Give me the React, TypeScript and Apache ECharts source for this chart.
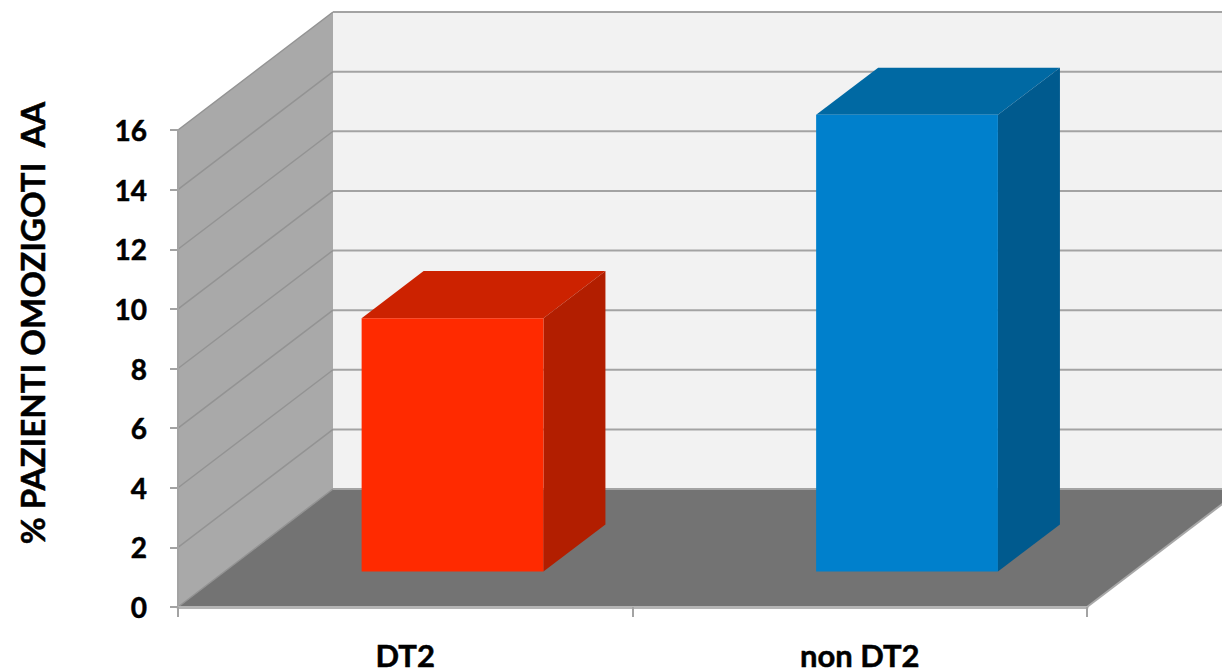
import React, { useEffect, useRef } from "react";
import * as echarts from "echarts";

// Percentage of homozygous AA patients per group
const categories = ["DT2", "non DT2"];
const percentValues = [8.5, 15.32];
const yTicks = [0, 2, 4, 6, 8, 10, 12, 14, 16];
const yAxisTitle = "% PAZIENTI OMOZIGOTI  AA";

const FONT = "Lato, 'Open Sans', sans-serif";
const GRID_LINE = "#a3a3a3";
const SIDE_WALL_LINE = "#939393";

// Oblique projection: full chart depth and where the bars stand within it
const DEPTH_X = 155;
const DEPTH_Y = -118;
const BAR_FRONT_X = 0.305;
const BAR_FRONT_Y = 0.3;
const BAR_DEPTH = 0.4;
const BAR_WIDTH_RATIO = 0.4;

const barColors = [
  { front: "#ff2a00", top: "#cc2200", side: "#b21e00" },
  { front: "#0080cc", top: "#0069a3", side: "#005a8e" },
];

const poly = (points: number[][], fill: string) => ({
  type: "polygon",
  shape: { points },
  style: { fill },
});

const renderPanels = (params: any) => {
  const { x, y, width, height } = params.coordSys;
  const x2 = x + width;
  const y2 = y + height;
  return {
    type: "group",
    children: [
      poly(
        [
          [x + DEPTH_X, y + DEPTH_Y],
          [x2 + DEPTH_X, y + DEPTH_Y],
          [x2 + DEPTH_X, y2 + DEPTH_Y],
          [x + DEPTH_X, y2 + DEPTH_Y],
        ],
        "#f2f2f2",
      ),
      poly(
        [
          [x, y],
          [x + DEPTH_X, y + DEPTH_Y],
          [x + DEPTH_X, y2 + DEPTH_Y],
          [x, y2],
        ],
        "#a9a9a9",
      ),
      poly(
        [
          [x, y2],
          [x2, y2],
          [x2 + DEPTH_X, y2 + DEPTH_Y],
          [x + DEPTH_X, y2 + DEPTH_Y],
        ],
        "#737373",
      ),
      // Outer right edge of the floor
      {
        type: "line",
        shape: { x1: x2, y1: y2, x2: x2 + DEPTH_X, y2: y2 + DEPTH_Y },
        style: { stroke: "#a8a8a8", lineWidth: 2 },
      },
    ],
  };
};

const renderGridLines = (params: any, api: any) => {
  const { x, width } = params.coordSys;
  const py = api.coord([0, api.value(1)])[1];
  const bx = x + DEPTH_X;
  const by = py + DEPTH_Y;
  return {
    type: "group",
    children: [
      {
        type: "line",
        shape: { x1: x, y1: py, x2: bx, y2: by },
        style: { stroke: SIDE_WALL_LINE, lineWidth: 1.5 },
      },
      {
        type: "line",
        shape: { x1: bx, y1: by, x2: bx + width, y2: by },
        style: { stroke: GRID_LINE, lineWidth: 2 },
      },
    ],
  };
};

const renderBar = (_params: any, api: any) => {
  const index = api.value(0);
  const base = api.coord([index, 0]);
  const top = api.coord([index, api.value(1)]);
  const half = (api.size([1, 0])[0] * BAR_WIDTH_RATIO) / 2;
  const ox = DEPTH_X * BAR_FRONT_X;
  const oy = DEPTH_Y * BAR_FRONT_Y;
  const dx = DEPTH_X * BAR_DEPTH;
  const dy = DEPTH_Y * BAR_DEPTH;
  const l = base[0] - half + ox;
  const r = base[0] + half + ox;
  const b = base[1] + oy;
  const t = top[1] + oy;
  const c = barColors[index];
  return {
    type: "group",
    children: [
      poly([[l, t], [r, t], [r + dx, t + dy], [l + dx, t + dy]], c.top),
      poly([[r, t], [r + dx, t + dy], [r + dx, b + dy], [r, b]], c.side),
      poly([[l, t], [r, t], [r, b], [l, b]], c.front),
    ],
  };
};

export default function App() {
  const ref = useRef<HTMLDivElement>(null);

  useEffect(() => {
    document.body.style.margin = "0";
    document.body.style.overflow = "hidden";
    const chart = echarts.init(ref.current!, undefined, { renderer: "svg" });
    const axisLine = { lineStyle: { color: GRID_LINE, width: 2 } };
    const labelStyle = {
      color: "#000",
      fontFamily: FONT,
      fontWeight: "bold" as const,
      textBorderColor: "#000",
      textBorderWidth: 0.5,
    };
    chart.setOption({
      animation: false,
      backgroundColor: "#fff",
      grid: { left: 178, top: 130, width: 909, height: 477, outerBoundsMode: "none" },
      xAxis: {
        type: "category",
        data: categories,
        axisLine: { show: true, lineStyle: { color: "#b4b4b4", width: 3 } },
        axisTick: { show: true, length: 10, lineStyle: { color: GRID_LINE, width: 2 } },
        axisLabel: { ...labelStyle, fontSize: 31, lineHeight: 28, margin: 34 },
        z: 5,
      },
      yAxis: {
        type: "value",
        min: 0,
        max: 16,
        interval: 2,
        splitLine: { show: false },
        axisLine: { show: true, ...axisLine },
        axisTick: { show: true, length: 8, ...axisLine },
        axisLabel: { ...labelStyle, fontSize: 28, margin: 31, align: "right", padding: [4, 0, 0, 0] },
        z: 5,
      },
      graphic: [
        {
          type: "text",
          x: 32,
          y: 323,
          rotation: Math.PI / 2,
          style: {
            text: yAxisTitle,
            font: `bold 33px ${FONT}`,
            fill: "#000",
            stroke: "#000",
            lineWidth: 0.5,
            align: "center",
            verticalAlign: "middle",
          },
        },
      ],
      series: [
        { type: "custom", silent: true, z: 1, renderItem: renderPanels, data: [[0, 0]] },
        {
          type: "custom",
          silent: true,
          z: 2,
          renderItem: renderGridLines,
          data: yTicks.map((t) => [0, t]),
          encode: { x: 0, y: 1 },
        },
        {
          type: "custom",
          silent: true,
          z: 3,
          renderItem: renderBar,
          data: percentValues.map((v, i) => [i, v]),
          encode: { x: 0, y: 1 },
        },
      ],
    });
    return () => chart.dispose();
  }, []);

  return <div ref={ref} style={{ width: 1222, height: 671 }} />;
}
